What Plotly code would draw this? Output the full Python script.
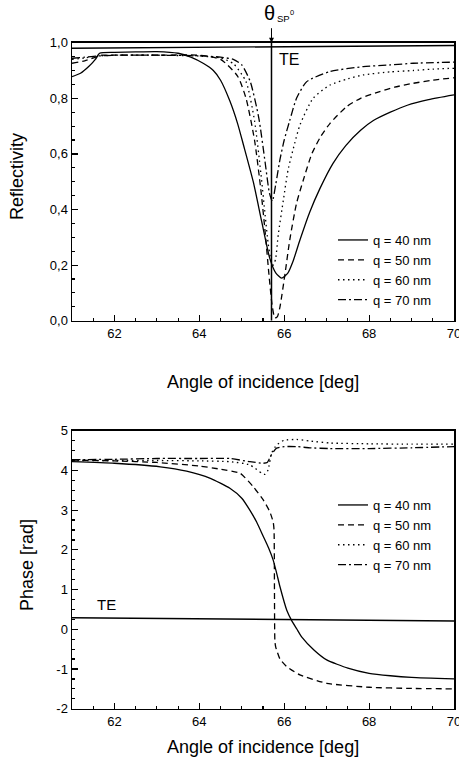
import plotly.graph_objects as go

# ---------------- data ----------------
labels = ["q = 40 nm", "q = 50 nm", "q = 60 nm", "q = 70 nm"]

# Reflectivity (top panel)
ang_R40 = [61.0, 61.2, 61.4, 61.55, 61.65, 62.0, 62.5, 63.0, 63.5, 63.8, 64.1, 64.33, 64.5, 64.72, 64.9,
           65.04, 65.27, 65.47, 65.66, 65.8, 65.94, 66.08, 66.21, 66.37, 66.6, 66.84, 67.15, 67.45, 67.8,
           68.1, 68.5, 68.9, 69.4, 70.0]
R40 = [0.878, 0.89, 0.915, 0.94, 0.962, 0.965, 0.967, 0.968, 0.962, 0.948, 0.925, 0.90, 0.865, 0.79, 0.71,
       0.632, 0.50, 0.356, 0.224, 0.172, 0.153, 0.17, 0.215, 0.29, 0.39, 0.475, 0.566, 0.63, 0.685,
       0.72, 0.75, 0.775, 0.795, 0.812]

ang_R50 = [61.0, 61.3, 61.6, 61.7, 62.0, 63.0, 64.0, 64.5, 64.9, 65.1, 65.3, 65.45, 65.55, 65.65, 65.72,
           65.78, 65.84, 65.9, 66.02, 66.13, 66.29, 66.45, 66.65, 66.85, 67.08, 67.47, 67.8, 68.25, 68.6,
           69.04, 69.5, 70.0]
R50 = [0.926, 0.935, 0.95, 0.955, 0.955, 0.955, 0.955, 0.94, 0.88, 0.80, 0.65, 0.47, 0.32, 0.15, 0.05,
       0.01, 0.015, 0.05, 0.17, 0.29, 0.422, 0.506, 0.60, 0.66, 0.71, 0.77, 0.80, 0.824, 0.84,
       0.854, 0.865, 0.874]

ang_R60 = [61.0, 61.3, 61.6, 62.0, 63.0, 64.0, 64.5, 64.8, 65.1, 65.3, 65.45, 65.55, 65.62, 65.7, 65.75,
           65.8, 65.86, 65.98, 66.09, 66.25, 66.37, 66.68, 67.08, 67.5, 67.86, 68.5, 69.04, 69.5, 70.0]
R60 = [0.94, 0.945, 0.952, 0.955, 0.955, 0.952, 0.945, 0.925, 0.86, 0.72, 0.53, 0.38, 0.28, 0.21, 0.2,
       0.225, 0.31, 0.434, 0.542, 0.64, 0.704, 0.80, 0.848, 0.87, 0.884, 0.895, 0.90, 0.905, 0.908]

ang_R70 = [61.0, 61.3, 61.6, 62.0, 63.0, 64.0, 64.5, 64.8, 65.0, 65.2, 65.4, 65.55, 65.65, 65.72, 65.8,
           65.9, 66.0, 66.13, 66.29, 66.53, 67.08, 67.86, 68.5, 69.04, 70.0]
R70 = [0.944, 0.948, 0.952, 0.955, 0.955, 0.953, 0.948, 0.94, 0.92, 0.86, 0.73, 0.57, 0.46, 0.43, 0.49,
       0.58, 0.65, 0.72, 0.80, 0.86, 0.896, 0.914, 0.92, 0.926, 0.93]

ang_TE = [61.0, 70.0]
R_TE = [0.98, 0.99]

theta_sp0 = 65.7
sp_line_y = [0.0, 1.0]

# Phase (bottom panel)
ang_P40 = [61.0, 62.0, 63.08, 63.7, 64.26, 64.72, 65.0, 65.19, 65.35, 65.51, 65.63, 65.74, 65.82, 65.9,
           66.06, 66.17, 66.3, 66.41, 66.7, 67.0, 67.5, 68.0, 68.5, 69.0, 70.0]
P40 = [4.22, 4.18, 4.09, 3.98, 3.80, 3.55, 3.30, 3.0, 2.70, 2.33, 2.05, 1.74, 1.42, 1.07,
       0.48, 0.23, 0.0, -0.19, -0.52, -0.77, -0.98, -1.11, -1.17, -1.21, -1.25]

ang_P50 = [61.0, 62.0, 63.0, 64.0, 64.5, 64.96, 65.27, 65.51, 65.66, 65.74, 65.76, 65.77, 65.78, 65.8,
           65.82, 65.9, 66.06, 66.37, 67.0, 68.0, 69.0, 70.0]
P50 = [4.26, 4.24, 4.2, 4.11, 4.03, 3.93, 3.59, 3.25, 2.96, 2.70, 2.5, 1.0, -0.3, -0.45,
       -0.52, -0.75, -0.94, -1.15, -1.36, -1.46, -1.49, -1.5]

ang_P60 = [61.0, 62.0, 63.0, 64.0, 64.72, 65.19, 65.47, 65.55, 65.62, 65.7, 65.82, 66.0, 66.29, 66.6,
           67.08, 68.0, 69.0, 70.0]
P60 = [4.25, 4.25, 4.25, 4.24, 4.22, 4.14, 3.93, 3.9, 4.01, 4.43, 4.64, 4.76, 4.78, 4.74,
       4.69, 4.67, 4.66, 4.66]

ang_P70 = [61.0, 62.0, 63.0, 64.0, 64.72, 65.19, 65.5, 65.6, 65.7, 65.82, 66.0, 66.29, 66.6, 67.08,
           68.0, 69.0, 70.0]
P70 = [4.27, 4.28, 4.30, 4.30, 4.30, 4.22, 4.18, 4.2, 4.4, 4.56, 4.6, 4.6, 4.57, 4.55,
       4.55, 4.57, 4.6]

ang_PTE = [61.0, 64.0, 67.0, 70.0]
P_TE = [0.29, 0.265, 0.24, 0.21]

# ticks
x_ticks = [62, 64, 66, 68, 70]
x_ticktext = ["62", "64", "66", "68", "70"]
R_ticks = [0.0, 0.2, 0.4, 0.6, 0.8, 1.0]
R_ticktext = ["0,0", "0,2", "0,4", "0,6", "0,8", "1,0"]
P_ticks = [-2, -1, 0, 1, 2, 3, 4, 5]
P_ticktext = ["-2", "-1", "0", "1", "2", "3", "4", "5"]

# ---------------- styling ----------------
FONT = "Liberation Sans, Arial, sans-serif"
W, H = 459, 759
L, R = 72, 5
top_px = (42.7, 320.7)
bot_px = (430.7, 708.7)

def py(p):
    return 1 - p / H

def pxx(p):
    return (p - L) / (W - L - R)

dashes = ["solid", "6px,4px", "1.5px,3.5px", "8px,3px,2px,3px"]
lw = 1.3

fig = go.Figure()

R_series = [(ang_R40, R40), (ang_R50, R50), (ang_R60, R60), (ang_R70, R70)]
P_series = [(ang_P40, P40), (ang_P50, P50), (ang_P60, P60), (ang_P70, P70)]

for (xs, ys), lab, d in zip(R_series, labels, dashes):
    fig.add_trace(go.Scatter(x=xs, y=ys, mode="lines", name=lab,
                             line=dict(color="black", width=lw, dash=d, shape="spline", smoothing=0.6),
                             xaxis="x", yaxis="y", legend="legend"))

fig.add_trace(go.Scatter(x=ang_TE, y=R_TE, mode="lines", showlegend=False,
                         line=dict(color="black", width=1.4), xaxis="x", yaxis="y"))
fig.add_trace(go.Scatter(x=[theta_sp0, theta_sp0], y=sp_line_y, mode="lines", showlegend=False,
                         line=dict(color="black", width=1.5), xaxis="x", yaxis="y"))

for (xs, ys), lab, d in zip(P_series, labels, dashes):
    fig.add_trace(go.Scatter(x=xs, y=ys, mode="lines", name=lab,
                             line=dict(color="black", width=lw, dash=d, shape="spline", smoothing=0.5),
                             xaxis="x2", yaxis="y2", legend="legend2"))

fig.add_trace(go.Scatter(x=ang_PTE, y=P_TE, mode="lines", showlegend=False,
                         line=dict(color="black", width=1.4), xaxis="x2", yaxis="y2"))

axis_common = dict(showline=True, linecolor="black", linewidth=1.5, mirror=True,
                   ticks="inside", ticklen=6, tickwidth=1.2, tickcolor="black",
                   showgrid=False, zeroline=False, automargin=False,
                   tickfont=dict(family=FONT, size=13, color="black"))

fig.update_layout(
    width=W, height=H,
    autosize=False,
    margin=dict(l=L, r=R, t=0, b=0, pad=0, autoexpand=False),
    paper_bgcolor="white", plot_bgcolor="white",
    font=dict(family=FONT, color="black"),
    xaxis=dict(range=[61, 70], domain=[0, 1], anchor="y", tickvals=x_ticks, ticktext=x_ticktext,
               ticklabeloverflow="allow",
               minor=dict(ticks="inside", ticklen=3, dtick=0.5, tick0=61, tickcolor="black"),
               **axis_common),
    yaxis=dict(range=[0, 1], domain=[py(top_px[1]), py(top_px[0])], anchor="x",
               tickvals=R_ticks, ticktext=R_ticktext,
               minor=dict(ticks="inside", ticklen=3, dtick=0.05, tick0=0, tickcolor="black"),
               **axis_common),
    xaxis2=dict(range=[61, 70], domain=[0, 1], anchor="y2", tickvals=x_ticks, ticktext=x_ticktext,
                ticklabeloverflow="allow",
                minor=dict(ticks="inside", ticklen=3, dtick=0.5, tick0=61, tickcolor="black"),
                **axis_common),
    yaxis2=dict(range=[-2, 5], domain=[py(bot_px[1]), py(bot_px[0])], anchor="x2",
                tickvals=P_ticks, ticktext=P_ticktext,
                minor=dict(ticks="inside", ticklen=3, dtick=0.25, tick0=0, tickcolor="black"),
                **axis_common),
    legend=dict(x=pxx(333), y=py(225), xanchor="left", yanchor="top",
                bgcolor="rgba(0,0,0,0)", borderwidth=0, tracegroupgap=0,
                font=dict(family=FONT, size=13, color="black")),
    legend2=dict(x=pxx(333), y=py(490), xanchor="left", yanchor="top",
                 bgcolor="rgba(0,0,0,0)", borderwidth=0, tracegroupgap=0,
                 font=dict(family=FONT, size=13, color="black")),
    showlegend=True,
)

def note(text, x, y, size, angle=0, xanchor="center", yanchor="middle"):
    return dict(text=text, x=pxx(x), y=py(y), xref="paper", yref="paper",
                xanchor=xanchor, yanchor=yanchor, textangle=angle, showarrow=False,
                borderpad=0, font=dict(size=size))

ann = [
    note("Reflectivity", 17, 176, 18, angle=-90),
    note("Phase [rad]", 27, 565, 18, angle=-90),
    note("Angle of incidence [deg]", 263, 382, 18),
    note("Angle of incidence [deg]", 263, 747, 18),
    note("TE", 289, 59, 16),
    note("TE", 106, 604, 15),
    note("θ", 276, 12.5, 20, xanchor="right"),
    note("SP", 276, 18.5, 9.5, xanchor="left"),
    note("0", 289, 13, 7.5, xanchor="left"),
]
# theta_SP0 arrow
ann.append(dict(text=" ", x=theta_sp0, y=1.0, xref="x", yref="y", showarrow=True,
                ax=0, ay=-17, arrowhead=2, arrowsize=1, arrowwidth=1, arrowcolor="black",
                font=dict(size=2)))
fig.update_layout(annotations=ann)

fig.write_html("out.html", config={"displayModeBar": False, "staticPlot": True},
               post_script="document.body.style.margin='0';document.body.style.padding='0';"
                           "document.body.style.overflow='hidden';")
